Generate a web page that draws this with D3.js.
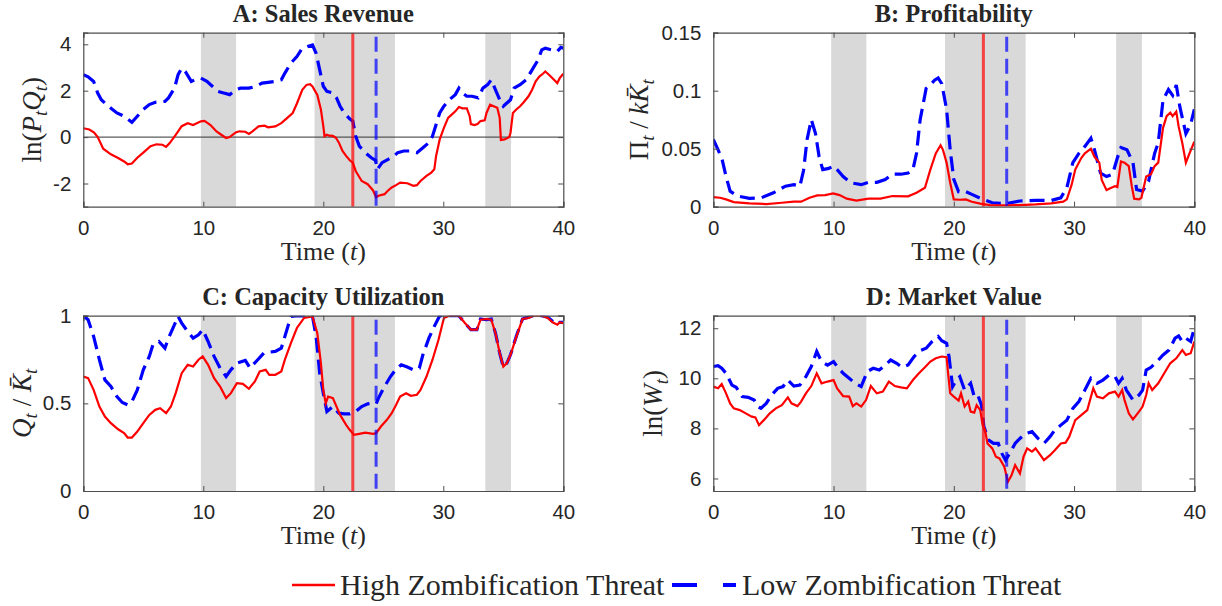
<!DOCTYPE html>
<html>
<head>
<meta charset="utf-8">
<script src="https://cdn.jsdelivr.net/npm/d3@7"></script>
<style>
  body { margin: 0; background: #fff; }
  svg text { fill: #262626; }
</style>
</head>
<body>
<div id="chart"></div>
<script>
// shared x axis
const timeTicks = [0, 10, 20, 30, 40];
const bands = [[9.8, 12.73], [19.27, 25.97], [33.5, 35.64]];
const eventHigh = 22.46;
const eventLow = 24.4;

// A: sales revenue
const salesTicks = [-2, 0, 2, 4];
const salesHigh = [[0,0.38],[0.5,0.33],[0.9,0.2],[1.2,0.0],[1.66,-0.5],[2.3,-0.74],[2.9,-0.9],[3.4,-1.05],[3.7,-1.17],[4.05,-1.14],[4.5,-0.89],[5.0,-0.67],[5.6,-0.39],[6.1,-0.31],[6.6,-0.33],[6.9,-0.42],[7.2,-0.26],[7.7,0.1],[8.2,0.47],[8.7,0.6],[9.15,0.52],[9.8,0.68],[10.1,0.7],[10.6,0.52],[11.1,0.24],[11.5,0.1],[11.9,-0.04],[12.2,0.0],[12.7,0.2],[13.0,0.25],[13.5,0.23],[13.8,0.14],[14.1,0.25],[14.6,0.46],[15.1,0.49],[15.4,0.42],[16.0,0.46],[16.5,0.6],[17.0,0.83],[17.45,1.04],[17.8,1.45],[18.25,2.04],[18.6,2.25],[18.9,2.28],[19.1,2.18],[19.5,1.82],[19.8,1.19],[20.0,0.47],[20.1,0.04],[20.3,0.1],[20.5,0.06],[20.8,0.05],[21.05,-0.03],[21.3,-0.24],[21.6,-0.6],[21.9,-0.81],[22.2,-1.0],[22.46,-1.1],[22.7,-1.46],[23.2,-1.89],[23.7,-2.03],[24.15,-2.3],[24.4,-2.6],[24.6,-2.53],[25.1,-2.46],[25.4,-2.3],[25.7,-2.17],[26.1,-2.06],[26.4,-1.96],[27.0,-1.99],[27.5,-2.1],[27.8,-2.07],[28.1,-1.89],[28.6,-1.67],[29.0,-1.53],[29.25,-1.39],[29.4,-0.81],[29.7,-0.1],[30.05,0.4],[30.4,0.83],[30.7,0.97],[31.0,1.11],[31.3,1.3],[31.6,1.24],[31.96,1.24],[32.2,0.9],[32.3,0.56],[32.6,0.52],[32.85,0.56],[33.1,0.69],[33.45,0.72],[33.6,1.04],[33.9,1.4],[34.2,1.33],[34.5,1.26],[34.7,0.83],[34.8,-0.12],[35.1,-0.1],[35.5,0.0],[35.6,0.19],[35.8,1.04],[36.1,1.2],[36.4,1.33],[36.7,1.5],[37.1,1.76],[37.4,2.04],[37.7,2.4],[38.0,2.61],[38.3,2.73],[38.5,2.83],[38.8,2.69],[39.1,2.54],[39.5,2.33],[39.7,2.54],[40,2.73]];
const salesLow = [[0,2.69],[0.4,2.6],[0.86,2.4],[1.2,1.9],[1.5,1.61],[2.1,1.33],[2.8,1.04],[3.4,0.9],[4.05,0.64],[4.5,0.9],[5.0,1.19],[5.5,1.4],[6.0,1.5],[6.8,1.54],[7.1,1.69],[7.6,2.11],[7.9,2.69],[8.2,2.97],[8.5,2.83],[9.0,2.4],[9.3,2.47],[9.8,2.54],[10.3,2.4],[10.75,2.19],[11.2,1.97],[11.7,1.9],[12.2,1.83],[12.7,2.04],[13.1,2.11],[13.8,2.11],[14.4,2.19],[14.9,2.33],[15.4,2.36],[16.0,2.4],[16.5,2.47],[16.8,2.76],[17.3,3.19],[17.8,3.47],[18.2,3.79],[18.7,3.9],[19.1,3.97],[19.4,3.61],[19.7,2.9],[20.0,2.19],[20.3,1.97],[20.8,1.9],[21.1,1.69],[21.4,1.33],[21.75,1.04],[22.2,0.79],[22.46,0.69],[22.7,0.04],[23.0,-0.39],[23.5,-0.67],[24.0,-0.89],[24.35,-1.0],[24.5,-1.39],[24.9,-1.1],[25.4,-0.96],[25.9,-0.81],[26.2,-0.67],[26.7,-0.6],[27.2,-0.6],[27.8,-0.67],[28.3,-0.46],[28.8,-0.24],[29.1,0.04],[29.4,0.54],[29.7,1.04],[30.05,1.33],[30.5,1.61],[31.0,1.83],[31.3,2.11],[31.6,1.9],[31.96,1.76],[32.4,1.76],[32.9,1.69],[33.3,2.11],[33.7,2.26],[34.0,2.47],[34.35,2.04],[34.7,1.61],[35.0,1.33],[35.3,1.47],[35.6,1.61],[35.9,2.11],[36.4,2.26],[36.9,2.47],[37.4,2.9],[37.9,3.33],[38.2,3.76],[38.5,3.83],[39.0,3.76],[39.5,3.69],[39.8,3.87],[40,3.83]];

// B: profitability
const profitTicks = [0, 0.05, 0.1, 0.15];
const profitHigh = [[0,0.0083],[0.56,0.0077],[1.06,0.0063],[1.7,0.004],[3,0.0029],[4.4,0.0023],[5.7,0.0034],[6.7,0.0043],[7.3,0.0043],[8,0.0077],[8.65,0.0097],[9.3,0.01],[9.97,0.0114],[10.5,0.01],[11.1,0.0069],[11.9,0.0052],[12.9,0.0069],[13.9,0.0069],[14.9,0.0092],[16.2,0.0089],[16.9,0.012],[17.6,0.0163],[18.05,0.032],[18.5,0.046],[18.9,0.053],[19.1,0.049],[19.4,0.038],[19.7,0.0206],[20.0,0.0063],[20.5,0.006],[21.0,0.0063],[21.5,0.0043],[22.2,0.0026],[23,0.0014],[24.3,0.0011],[25.5,0.0014],[26.8,0.002],[28.1,0.0029],[29.1,0.0043],[29.4,0.0063],[29.8,0.019],[30.1,0.032],[30.6,0.042],[30.9,0.046],[31.4,0.05],[31.7,0.043],[32.1,0.038],[32.3,0.023],[32.7,0.0143],[33.1,0.0163],[33.4,0.0177],[33.6,0.017],[33.9,0.039],[34.2,0.038],[34.55,0.035],[34.8,0.0177],[35,0.0069],[35.4,0.0063],[35.6,0.0077],[36,0.026],[36.4,0.028],[36.7,0.035],[37,0.038],[37.4,0.068],[37.7,0.078],[38.0,0.081],[38.2,0.078],[38.5,0.082],[38.7,0.069],[39.0,0.055],[39.3,0.038],[39.6,0.046],[40,0.056]];
const profitLow = [[0,0.058],[0.4,0.049],[0.73,0.041],[1.06,0.026],[1.4,0.0134],[2.0,0.0092],[3,0.0072],[4,0.0077],[5,0.012],[6,0.0177],[6.7,0.019],[7.2,0.0177],[7.5,0.031],[7.8,0.058],[8.15,0.075],[8.5,0.063],[8.8,0.043],[9.1,0.032],[9.6,0.033],[10,0.035],[10.3,0.032],[10.8,0.026],[11.45,0.0206],[12.3,0.019],[12.9,0.021],[13.6,0.021],[14.3,0.0235],[14.9,0.028],[15.6,0.028],[16.2,0.029],[16.6,0.032],[16.9,0.046],[17.2,0.075],[17.7,0.102],[18.05,0.105],[18.4,0.109],[18.7,0.111],[19.0,0.106],[19.4,0.084],[19.7,0.049],[20,0.0235],[20.4,0.0129],[20.9,0.0134],[21.5,0.0106],[22.3,0.0069],[23.2,0.0034],[24.3,0.0026],[25.5,0.0049],[26.8,0.0054],[28.1,0.0054],[28.9,0.0077],[29.4,0.0163],[29.9,0.038],[30.4,0.046],[30.9,0.052],[31.4,0.059],[31.7,0.049],[32.2,0.029],[32.7,0.026],[33.2,0.028],[33.6,0.042],[33.9,0.051],[34.4,0.049],[34.9,0.038],[35.2,0.0149],[35.7,0.0134],[36.2,0.022],[36.7,0.046],[37,0.055],[37.4,0.092],[37.85,0.101],[38.2,0.096],[38.5,0.105],[38.8,0.086],[39.3,0.063],[39.7,0.071],[40,0.084]];

// C: capacity utilization
const utilTicks = [0, 0.5, 1];
const utilHigh = [[0,0.653],[0.4,0.644],[0.86,0.577],[1.34,0.482],[1.8,0.425],[2.3,0.387],[2.9,0.352],[3.4,0.33],[3.7,0.305],[4.05,0.305],[4.5,0.339],[5.0,0.387],[5.5,0.434],[6,0.463],[6.4,0.472],[6.9,0.444],[7.3,0.482],[7.7,0.558],[8.2,0.672],[8.7,0.72],[9.15,0.71],[9.6,0.749],[9.95,0.768],[10.4,0.72],[10.9,0.644],[11.4,0.596],[11.9,0.53],[12.3,0.558],[12.8,0.615],[13.3,0.611],[13.8,0.583],[14.3,0.625],[14.7,0.682],[15.2,0.691],[15.5,0.663],[16,0.663],[16.5,0.682],[16.8,0.749],[17.3,0.844],[17.8,0.93],[18.4,0.987],[19.1,0.996],[19.5,0.9],[19.8,0.73],[20,0.577],[20.2,0.5],[20.4,0.539],[20.8,0.53],[21.1,0.482],[21.4,0.434],[21.9,0.377],[22.2,0.349],[22.55,0.32],[23,0.326],[23.5,0.333],[24.15,0.326],[24.4,0.33],[24.8,0.368],[25.3,0.406],[25.7,0.444],[26.06,0.491],[26.4,0.539],[26.9,0.558],[27.3,0.543],[27.8,0.549],[28.1,0.577],[28.6,0.653],[29.1,0.749],[29.6,0.863],[30.05,0.987],[30.5,1.0],[31.3,1.0],[31.8,0.958],[32.3,0.92],[32.8,0.92],[33.1,0.977],[33.6,0.981],[34.0,0.977],[34.35,0.9],[34.7,0.787],[35.0,0.71],[35.3,0.73],[35.6,0.777],[36.1,0.882],[36.6,0.981],[37.1,0.987],[37.5,1.0],[38.2,1.0],[38.7,0.987],[39.1,0.962],[39.5,0.949],[39.7,0.962],[40,0.958]];
const utilLow = [[0,1.0],[0.4,0.977],[0.86,0.882],[1.34,0.749],[1.8,0.634],[2.3,0.596],[2.8,0.539],[3.25,0.505],[3.7,0.491],[4.05,0.51],[4.5,0.577],[5.0,0.691],[5.5,0.768],[5.8,0.834],[6.3,0.853],[6.8,0.815],[7.1,0.872],[7.6,0.949],[7.9,0.996],[8.2,0.958],[8.7,0.91],[9.15,0.872],[9.6,0.891],[9.95,0.92],[10.4,0.853],[10.9,0.768],[11.4,0.701],[11.9,0.653],[12.3,0.691],[12.8,0.73],[13.5,0.745],[13.9,0.701],[14.4,0.739],[15.05,0.787],[15.5,0.792],[16,0.796],[16.5,0.815],[16.8,0.882],[17.3,0.996],[17.9,1.0],[19.1,0.996],[19.4,0.882],[19.7,0.672],[20,0.558],[20.3,0.453],[20.8,0.482],[21.3,0.444],[21.75,0.44],[22.2,0.44],[22.7,0.453],[23.2,0.482],[23.7,0.497],[24.15,0.501],[24.4,0.497],[24.6,0.53],[25.1,0.596],[25.6,0.653],[26.06,0.695],[26.5,0.72],[27,0.707],[27.5,0.691],[28,0.701],[28.3,0.777],[28.8,0.872],[29.25,0.939],[29.7,1.0],[30.5,1.0],[31.3,1.0],[31.8,0.958],[32.3,0.92],[32.8,0.92],[33.1,0.981],[33.6,0.977],[34.0,0.981],[34.35,0.9],[34.7,0.787],[35.0,0.707],[35.3,0.73],[35.6,0.777],[36.1,0.886],[36.6,0.981],[37.1,0.992],[37.5,1.0],[38.2,1.0],[38.7,0.992],[39.1,0.968],[39.5,0.952],[39.7,0.962],[40,0.962]];

// D: market value
const valueTicks = [6, 8, 10, 12];
const valueHigh = [[0,9.67],[0.4,9.6],[0.7,9.77],[1.06,9.4],[1.4,9.0],[1.7,8.8],[2.2,8.73],[2.7,8.6],[3.2,8.47],[3.5,8.44],[3.8,8.13],[4.2,8.33],[4.7,8.6],[5.2,8.8],[5.7,8.93],[6.2,9.24],[6.5,9.0],[7.0,8.89],[7.3,9.07],[7.7,9.4],[8.15,9.69],[8.6,10.2],[9.0,9.8],[9.5,9.87],[10,9.93],[10.3,9.6],[10.8,9.29],[11.3,9.27],[11.6,8.89],[11.9,9.0],[12.3,8.87],[12.7,9.13],[13.1,9.69],[13.6,9.4],[14.1,9.47],[14.6,9.87],[15.1,9.69],[15.6,9.64],[16.1,9.6],[16.6,9.93],[17.1,10.2],[17.6,10.44],[18.05,10.67],[18.5,10.8],[19.0,10.87],[19.4,10.84],[19.5,10.33],[19.7,9.4],[20.0,9.27],[20.4,9.11],[20.6,9.4],[20.9,8.87],[21.2,9.07],[21.4,8.67],[21.7,8.63],[21.9,8.93],[22.2,8.73],[22.4,8.13],[22.6,7.93],[22.8,7.4],[23.2,7.2],[23.5,6.87],[23.8,6.8],[24.2,6.47],[24.5,5.87],[24.8,6.13],[25.1,6.53],[25.5,6.2],[25.8,6.87],[26.1,7.2],[26.5,7.07],[26.8,7.2],[27.1,7.0],[27.5,6.73],[28,6.93],[28.4,7.13],[28.9,7.4],[29.3,7.43],[29.6,7.67],[30.1,8.33],[30.6,8.53],[31.1,8.73],[31.6,9.6],[31.9,9.27],[32.4,9.2],[32.9,9.4],[33.4,9.47],[33.7,9.27],[34.0,9.53],[34.2,9.13],[34.55,8.6],[34.9,8.36],[35.4,8.67],[35.7,8.87],[36.0,9.33],[36.2,9.8],[36.5,9.53],[37.0,9.8],[37.5,10.2],[38.0,10.6],[38.5,10.8],[39.0,11.13],[39.3,10.93],[39.7,11.0],[40,11.47]];
const valueLow = [[0,10.47],[0.4,10.5],[0.7,10.4],[1.06,10.2],[1.55,9.73],[1.9,9.64],[2.4,9.27],[2.9,9.24],[3.4,9.13],[3.7,8.87],[3.96,8.8],[4.4,9.0],[4.85,9.33],[5.35,9.6],[5.8,9.67],[6.2,9.93],[6.7,9.69],[7.2,9.73],[7.7,10.07],[8.15,10.47],[8.6,11.07],[9.0,10.67],[9.5,10.53],[10,10.67],[10.3,10.47],[10.8,10.2],[11.3,10.0],[11.8,9.8],[12.3,9.67],[12.8,10.27],[13.3,10.4],[13.8,10.33],[14.3,10.53],[14.75,10.73],[15.25,10.6],[15.7,10.44],[16.2,10.53],[16.7,10.87],[17.2,11.1],[17.7,11.2],[18.2,11.47],[18.7,11.67],[19.0,11.5],[19.4,11.4],[19.6,10.87],[19.9,9.67],[20.2,9.93],[20.5,10.07],[20.9,9.53],[21.4,9.8],[21.7,9.27],[22.0,9.33],[22.3,8.93],[22.5,8.07],[22.9,7.53],[23.3,7.4],[23.7,7.4],[24.0,7.0],[24.3,6.73],[24.8,7.13],[25.1,7.4],[25.5,7.6],[26,7.8],[26.5,7.87],[27.0,7.6],[27.5,7.4],[28,7.67],[28.4,7.93],[28.9,8.13],[29.4,8.33],[29.9,8.8],[30.4,9.07],[30.9,9.53],[31.4,10.0],[31.9,9.8],[32.4,9.93],[32.9,10.13],[33.4,10.07],[33.7,9.8],[34.0,10.0],[34.35,9.53],[34.9,9.13],[35.4,9.33],[35.7,9.53],[36.0,10.33],[36.4,10.44],[36.9,10.67],[37.4,10.93],[37.9,11.13],[38.4,11.6],[38.7,11.69],[39.0,11.47],[39.3,11.6],[39.7,11.47],[40,12.0]];

const RED = "#ff0000", BLUE = "#0000ff";
const serif = "'Liberation Serif', 'DejaVu Serif', serif";
const sans = "'Liberation Sans', Arial, sans-serif";

const svg = d3.select("#chart").append("svg")
  .attr("width", 1222).attr("height", 606);

// label parts: [text, italic, subscript]
const panels = [
  { id: "a", title: "A: Sales Revenue", x: 83.3, y: 32.7, w: 480, h: 174, dom: [-3, 4.5], ticks: salesTicks,
    high: salesHigh, low: salesLow, zero: true, labelX: 33,
    label: [["ln(", 0, 0], ["P", 1, 0], ["t", 1, 1], ["Q", 1, 0], ["t", 1, 1], [")", 0, 0]] },
  { id: "b", title: "B: Profitability", x: 713.3, y: 32.7, w: 481, h: 174, dom: [0, 0.15], ticks: profitTicks,
    high: profitHigh, low: profitLow, labelX: 640,
    label: [["\u03A0", 0, 0], ["t", 1, 1], [" / ", 0, 0], ["k", 1, 0], ["K\u0304", 1, 0], ["t", 1, 1]] },
  { id: "c", title: "C: Capacity Utilization", x: 83.3, y: 315.7, w: 480, h: 175.3, dom: [0, 1], ticks: utilTicks,
    high: utilHigh, low: utilLow, labelX: 23,
    label: [["Q", 1, 0], ["t", 1, 1], [" / ", 0, 0], ["K\u0304", 1, 0], ["t", 1, 1]] },
  { id: "d", title: "D: Market Value", x: 713.3, y: 315.7, w: 481, h: 175.3, dom: [5.5, 12.5], ticks: valueTicks,
    high: valueHigh, low: valueLow, labelX: 654,
    label: [["ln(", 0, 0], ["W", 1, 0], ["t", 1, 1], [")", 0, 0]] }
];

panels.forEach(drawPanel);

function drawPanel(p) {
  const x = d3.scaleLinear().domain([0, 40]).range([p.x, p.x + p.w]);
  const y = d3.scaleLinear().domain(p.dom).range([p.y + p.h, p.y]);
  const g = svg.append("g");

  g.append("clipPath").attr("id", "clip-" + p.id)
    .append("rect").attr("x", p.x).attr("y", p.y).attr("width", p.w).attr("height", p.h);

  const plot = g.append("g").attr("clip-path", "url(#clip-" + p.id + ")");

  // shaded recession bands
  plot.selectAll("rect.band").data(bands).enter().append("rect")
    .attr("class", "band")
    .attr("x", d => x(d[0])).attr("width", d => x(d[1]) - x(d[0]))
    .attr("y", p.y).attr("height", p.h)
    .attr("fill", "#d9d9d9");

  if (p.zero) {
    plot.append("line").attr("x1", p.x).attr("x2", p.x + p.w)
      .attr("y1", y(0)).attr("y2", y(0))
      .attr("stroke", "#333").attr("stroke-width", 1);
  }

  const line = d3.line().x(d => x(d[0])).y(d => y(d[1]));

  plot.append("path").datum(p.low).attr("d", line)
    .attr("fill", "none").attr("stroke", BLUE).attr("stroke-width", 3.2)
    .attr("stroke-dasharray", "15,7");
  plot.append("path").datum(p.high).attr("d", line)
    .attr("fill", "none").attr("stroke", RED).attr("stroke-width", 2.2);

  // event lines
  plot.append("line").attr("x1", x(eventHigh)).attr("x2", x(eventHigh))
    .attr("y1", p.y).attr("y2", p.y + p.h)
    .attr("stroke", RED).attr("stroke-opacity", 0.7).attr("stroke-width", 3);
  plot.append("line").attr("x1", x(eventLow)).attr("x2", x(eventLow))
    .attr("y1", p.y + 4).attr("y2", p.y + p.h)
    .attr("stroke", BLUE).attr("stroke-opacity", 0.7).attr("stroke-width", 3)
    .attr("stroke-dasharray", "15,7");

  // axes (ticks inward, box all round)
  const fmt = d => String(d);
  const axB = g.append("g").attr("transform", `translate(0,${p.y + p.h})`)
    .call(d3.axisBottom(x).tickValues(timeTicks).tickSize(-5).tickPadding(13).tickFormat(fmt));
  const axT = g.append("g").attr("transform", `translate(0,${p.y})`)
    .call(d3.axisTop(x).tickValues(timeTicks).tickSize(-5).tickFormat(""));
  const axL = g.append("g").attr("transform", `translate(${p.x},0)`)
    .call(d3.axisLeft(y).tickValues(p.ticks).tickSize(-5).tickPadding(12).tickFormat(fmt));
  const axR = g.append("g").attr("transform", `translate(${p.x + p.w},0)`)
    .call(d3.axisRight(y).tickValues(p.ticks).tickSize(-5).tickFormat(""));
  [axB, axT, axL, axR].forEach(a => {
    a.select(".domain").attr("stroke", "#4d4d4d").attr("stroke-width", 1.2);
    a.selectAll(".tick line").attr("stroke", "#4d4d4d");
    a.selectAll("text").attr("font-family", sans).attr("font-size", 20.5).attr("fill", "#262626");
  });
  axB.selectAll(".tick text").attr("dy", "0.75em");

  // title
  g.append("text").attr("x", p.x + p.w / 2).attr("y", p.y - 10.5)
    .attr("text-anchor", "middle")
    .attr("font-family", serif).attr("font-weight", "bold").attr("font-size", 24.5)
    .attr("fill", "#000").text(p.title);

  // x label
  const xl = g.append("text").attr("x", p.x + p.w / 2).attr("y", p.y + p.h + 53)
    .attr("text-anchor", "middle").attr("font-family", serif).attr("font-size", 26);
  xl.append("tspan").text("Time (");
  xl.append("tspan").attr("font-style", "italic").text("t");
  xl.append("tspan").text(")");

  // y label
  const cy = p.y + p.h / 2;
  const yl = g.append("text")
    .attr("transform", `translate(${p.labelX + 8},${cy}) rotate(-90)`)
    .attr("text-anchor", "middle").attr("font-family", serif).attr("font-size", 27);
  let down = false;
  p.label.forEach(part => {
    const ts = yl.append("tspan").text(part[0]);
    if (part[1]) ts.attr("font-style", "italic");
    if (part[2]) { ts.attr("font-size", 19).attr("dy", 6); down = true; }
    else if (down) { ts.attr("dy", -6); down = false; }
  });
}

// legend
const leg = svg.append("g");
const ly = 585;
leg.append("line").attr("x1", 292).attr("x2", 335).attr("y1", ly).attr("y2", ly)
  .attr("stroke", RED).attr("stroke-width", 2.5);
leg.append("text").attr("x", 340).attr("y", ly + 10)
  .attr("font-family", serif).attr("font-size", 30).attr("fill", "#000")
  .text("High Zombification Threat");
leg.append("line").attr("x1", 672).attr("x2", 736).attr("y1", ly).attr("y2", ly)
  .attr("stroke", BLUE).attr("stroke-width", 4).attr("stroke-dasharray", "25,26");
leg.append("text").attr("x", 742).attr("y", ly + 10)
  .attr("font-family", serif).attr("font-size", 30).attr("fill", "#000")
  .text("Low Zombification Threat");
</script>
</body>
</html>
